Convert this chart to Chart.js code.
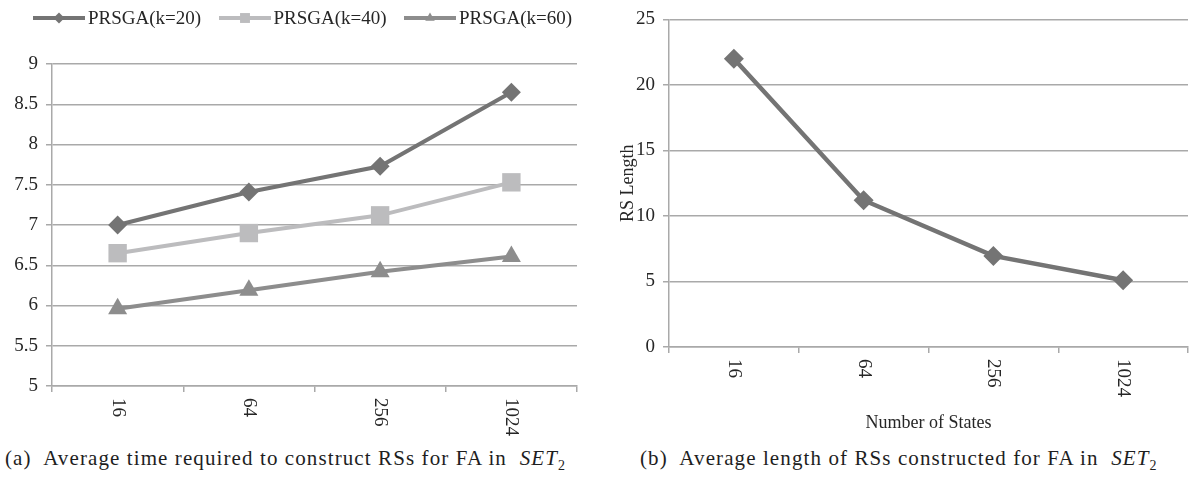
<!DOCTYPE html>
<html>
<head>
<meta charset="utf-8">
<title>PRSGA timing and RS length</title>
<script src="https://cdn.jsdelivr.net/npm/chart.js@4.4.1/dist/chart.umd.min.js"></script>
<style>
  body { margin: 0; background: #fff; font-family: "Liberation Serif", "DejaVu Serif", serif; color: #262626; }
  #page { position: relative; width: 1198px; height: 478px; overflow: hidden; }
  #page > canvas { position: absolute; top: 0; }
  #timechart { left: 0; }
  #lenchart { left: 600px; }
  .legend-item { position: absolute; top: 7px; height: 22px; display: flex; align-items: center; font-size: 19px; white-space: nowrap; }
  .legend-item canvas { margin-right: 3px; }
  .caption { position: absolute; top: 446px; font-size: 21px; letter-spacing: 1.1px; white-space: nowrap; color: #1e1e1e; }
  .caption sub { font-size: 14px; }
</style>
</head>
<body>
<div id="page">
  <canvas id="timechart" width="590" height="440"></canvas>
  <canvas id="lenchart" width="598" height="440"></canvas>
  <div id="legend"></div>
  <div class="caption" style="left:5px">(a)&nbsp; Average time required to construct RSs for FA in &nbsp;<i>SET</i><sub>2</sub></div>
  <div class="caption" style="left:640px">(b)&nbsp; Average length of RSs constructed for FA in &nbsp;<i>SET</i><sub>2</sub></div>
</div>
<script>
// number of states on the x axis
const states = ["16", "64", "256", "1024"];

// (a) average time, one series per k
const seriesNames = ["PRSGA(k=20)", "PRSGA(k=40)", "PRSGA(k=60)"];
const timeK20 = [7.0, 7.41, 7.73, 8.65];
const timeK40 = [6.65, 6.9, 7.12, 7.53];
const timeK60 = [5.96, 6.19, 6.42, 6.61];

// (b) average RS length
const rsLength = [22.0, 11.2, 6.95, 5.1];

const timeAxis = { min: 5, max: 9, step: 0.5 };
const lengthAxis = { min: 0, max: 25, step: 5 };

const textColor = "#262626";
const gridColor = "#a9a9a9";
const serif = '"Liberation Serif", "DejaVu Serif", serif';
const colors = ["#747474", "#bcbcbe", "#8d8d8d"];
const styles = ["rectRot", "rect", "triangle"];
const radii = [9.5, 13, 11];

// legend: line + small marker, then label
const legend = document.getElementById("legend");
seriesNames.forEach((name, i) => {
    const item = document.createElement("div");
    item.className = "legend-item";
    item.style.left = (33 + i * 185.5) + "px";
    const sw = document.createElement("canvas");
    sw.width = 52;
    sw.height = 14;
    const g = sw.getContext("2d");
    g.strokeStyle = colors[i];
    g.lineWidth = 4;
    g.beginPath();
    g.moveTo(0, 7);
    g.lineTo(52, 7);
    g.stroke();
    g.fillStyle = colors[i];
    Chart.helpers.drawPoint(g, { pointStyle: styles[i], radius: i === 1 ? 7 : 5.5, rotation: 0, borderWidth: 0 }, 26, 7);
    item.appendChild(sw);
    const label = document.createElement("span");
    label.textContent = name;
    item.appendChild(label);
    legend.appendChild(item);
});

// x labels rotated clockwise, read top to bottom
const verticalLabels = {
    id: "verticalLabels",
    afterDraw(chart) {
        const xs = chart.scales.x;
        const ctx = chart.ctx;
        ctx.save();
        ctx.font = "19px " + serif;
        ctx.fillStyle = textColor;
        ctx.textAlign = "left";
        ctx.textBaseline = "middle";
        xs.ticks.forEach((t, i) => {
            ctx.save();
            ctx.translate(xs.getPixelForTick(i), xs.top + 12);
            ctx.rotate(Math.PI / 2);
            ctx.fillText(states[i], 0, 0);
            ctx.restore();
        });
        ctx.restore();
    }
};

Chart.defaults.font.family = serif;
Chart.defaults.font.size = 19;
Chart.defaults.color = textColor;

function xScale(height, title) {
    return {
        type: "category",
        offset: true,
        grid: { offset: true, drawOnChartArea: false, color: gridColor, lineWidth: 1.5, tickLength: 6 },
        border: { color: gridColor, width: 1.5 },
        ticks: { color: "rgba(0,0,0,0)", maxRotation: 0, autoSkip: false },
        title: title,
        afterFit(scale) { scale.height = height; }
    };
}

function yScale(range, width, title) {
    return {
        min: range.min,
        max: range.max,
        ticks: { stepSize: range.step, padding: 8, callback: v => String(v) },
        grid: { color: gridColor, lineWidth: 1.5, tickLength: 6 },
        border: { color: gridColor, width: 1.5 },
        title: title,
        afterFit(scale) { scale.width = width; }
    };
}

function lineSet(label, data, i) {
    return {
        label: label,
        data: data,
        borderColor: colors[i],
        backgroundColor: colors[i],
        borderWidth: 4,
        pointStyle: styles[i],
        pointRadius: radii[i],
        pointBorderWidth: 0,
        pointBackgroundColor: colors[i],
        tension: 0
    };
}

new Chart(document.getElementById("timechart"), {
    type: "line",
    data: {
        labels: states,
        datasets: [
            lineSet(seriesNames[0], timeK20, 0),
            lineSet(seriesNames[1], timeK40, 1),
            lineSet(seriesNames[2], timeK60, 2)
        ]
    },
    options: {
        responsive: false,
        animation: false,
        layout: { padding: { top: 64, right: 5, left: 0, bottom: 0 } },
        plugins: { legend: { display: false }, tooltip: { enabled: false } },
        scales: {
            x: xScale(54, { display: false }),
            y: yScale(timeAxis, 52, { display: false })
        }
    },
    plugins: [verticalLabels]
});

const lenSet = lineSet("RS Length", rsLength, 0);
lenSet.borderWidth = 4.5;
lenSet.pointRadius = 10;

new Chart(document.getElementById("lenchart"), {
    type: "line",
    data: { labels: states, datasets: [lenSet] },
    options: {
        responsive: false,
        animation: false,
        layout: { padding: { top: 10, right: 0, left: 0, bottom: 0 } },
        plugins: { legend: { display: false }, tooltip: { enabled: false } },
        scales: {
            x: xScale(93, { display: true, text: "Number of States", font: { size: 18 }, padding: { top: 0, bottom: 6 } }),
            y: yScale(lengthAxis, 69, { display: true, text: "RS Length", font: { size: 18 }, padding: { top: 17, bottom: 0 } })
        }
    },
    plugins: [verticalLabels]
});
</script>
</body>
</html>
